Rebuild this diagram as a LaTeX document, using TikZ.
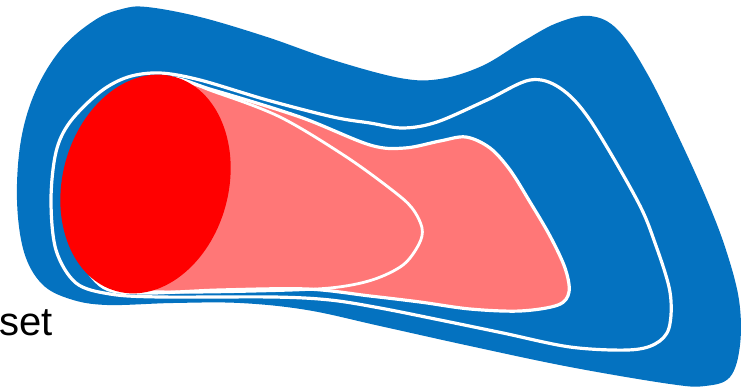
\documentclass[tikz,border=0pt]{standalone}
\usepackage{fontspec}
\setmainfont{Liberation Sans}
\definecolor{blobblue}{RGB}{4,114,192}
\definecolor{softpink}{RGB}{255,119,119}
\definecolor{pureRed}{RGB}{255,0,0}
\tikzset{
  outline/.style={draw=white, line width=3.2pt, line join=round},
  thinoutline/.style={draw=white, line width=2.8pt, line join=round},
}
\begin{document}
\begin{tikzpicture}[x=1pt,y=-1pt]
\useasboundingbox (0,0) rectangle (741,388);
% outer blue blob
\fill[blobblue] plot[smooth cycle, tension=0.6] coordinates {
 (147,7) (200,17) (267,37) (333,60) (400,78) (440,79) (482,66) (522,42)
 (557,23) (590,16) (618,30) (648,75) (680,140) (707,200) (726,250)
 (739,300) (740,345) (730,377) (705,386) (670,384) (570,367) (470,346)
 (380,326) (307,310) (240,303) (173,303) (107,305) (70,299) (42,284)
 (24,252) (17,200) (21,140) (36,90) (62,48) (95,20) (122,9)};
% second level outline
\draw[outline] plot[smooth cycle, tension=0.55] coordinates {
 (160,73) (200,80) (267,100) (333,117) (370,123) (403,128) (437,122)
 (487,100) (530,80) (560,88) (590,120) (637,200) (655,243) (670,292)
 (669,328) (655,344) (628,350) (570,347) (503,333) (440,320) (380,308)
 (330,300) (273,297) (160,297) (110,294) (76,283) (56,250) (51,200)
 (56,152) (70,122) (100,92) (128,77)};
% pink region
\filldraw[fill=softpink, outline] plot[smooth cycle, tension=0.55] coordinates {
 (165,78) (213,90) (300,117) (370,145) (405,148) (440,141) (466,137)
 (490,148) (510,170) (530,202) (550,236) (565,268) (569,292) (558,305)
 (520,311) (470,309) (420,302) (370,296) (307,289) (220,290) (140,293)
 (100,285) (75,240) (80,160) (110,100)};
% inner curve
\draw[thinoutline] plot[smooth cycle, tension=0.55] coordinates {
 (180,82) (215,92) (280,117) (345,156) (392,190) (412,208) (422,228)
 (419,244) (403,265) (372,280) (330,288) (260,291) (170,292) (120,287)
 (90,250) (95,150) (130,95)};
% red ellipse
\fill[pureRed] (145.5,184) ellipse[x radius=83, y radius=111, rotate=-15];
% label
\node[anchor=base west, inner sep=0pt, font=\fontsize{40}{48}\selectfont] (lbl) at (-1,335) {set};
\end{tikzpicture}
\end{document}
